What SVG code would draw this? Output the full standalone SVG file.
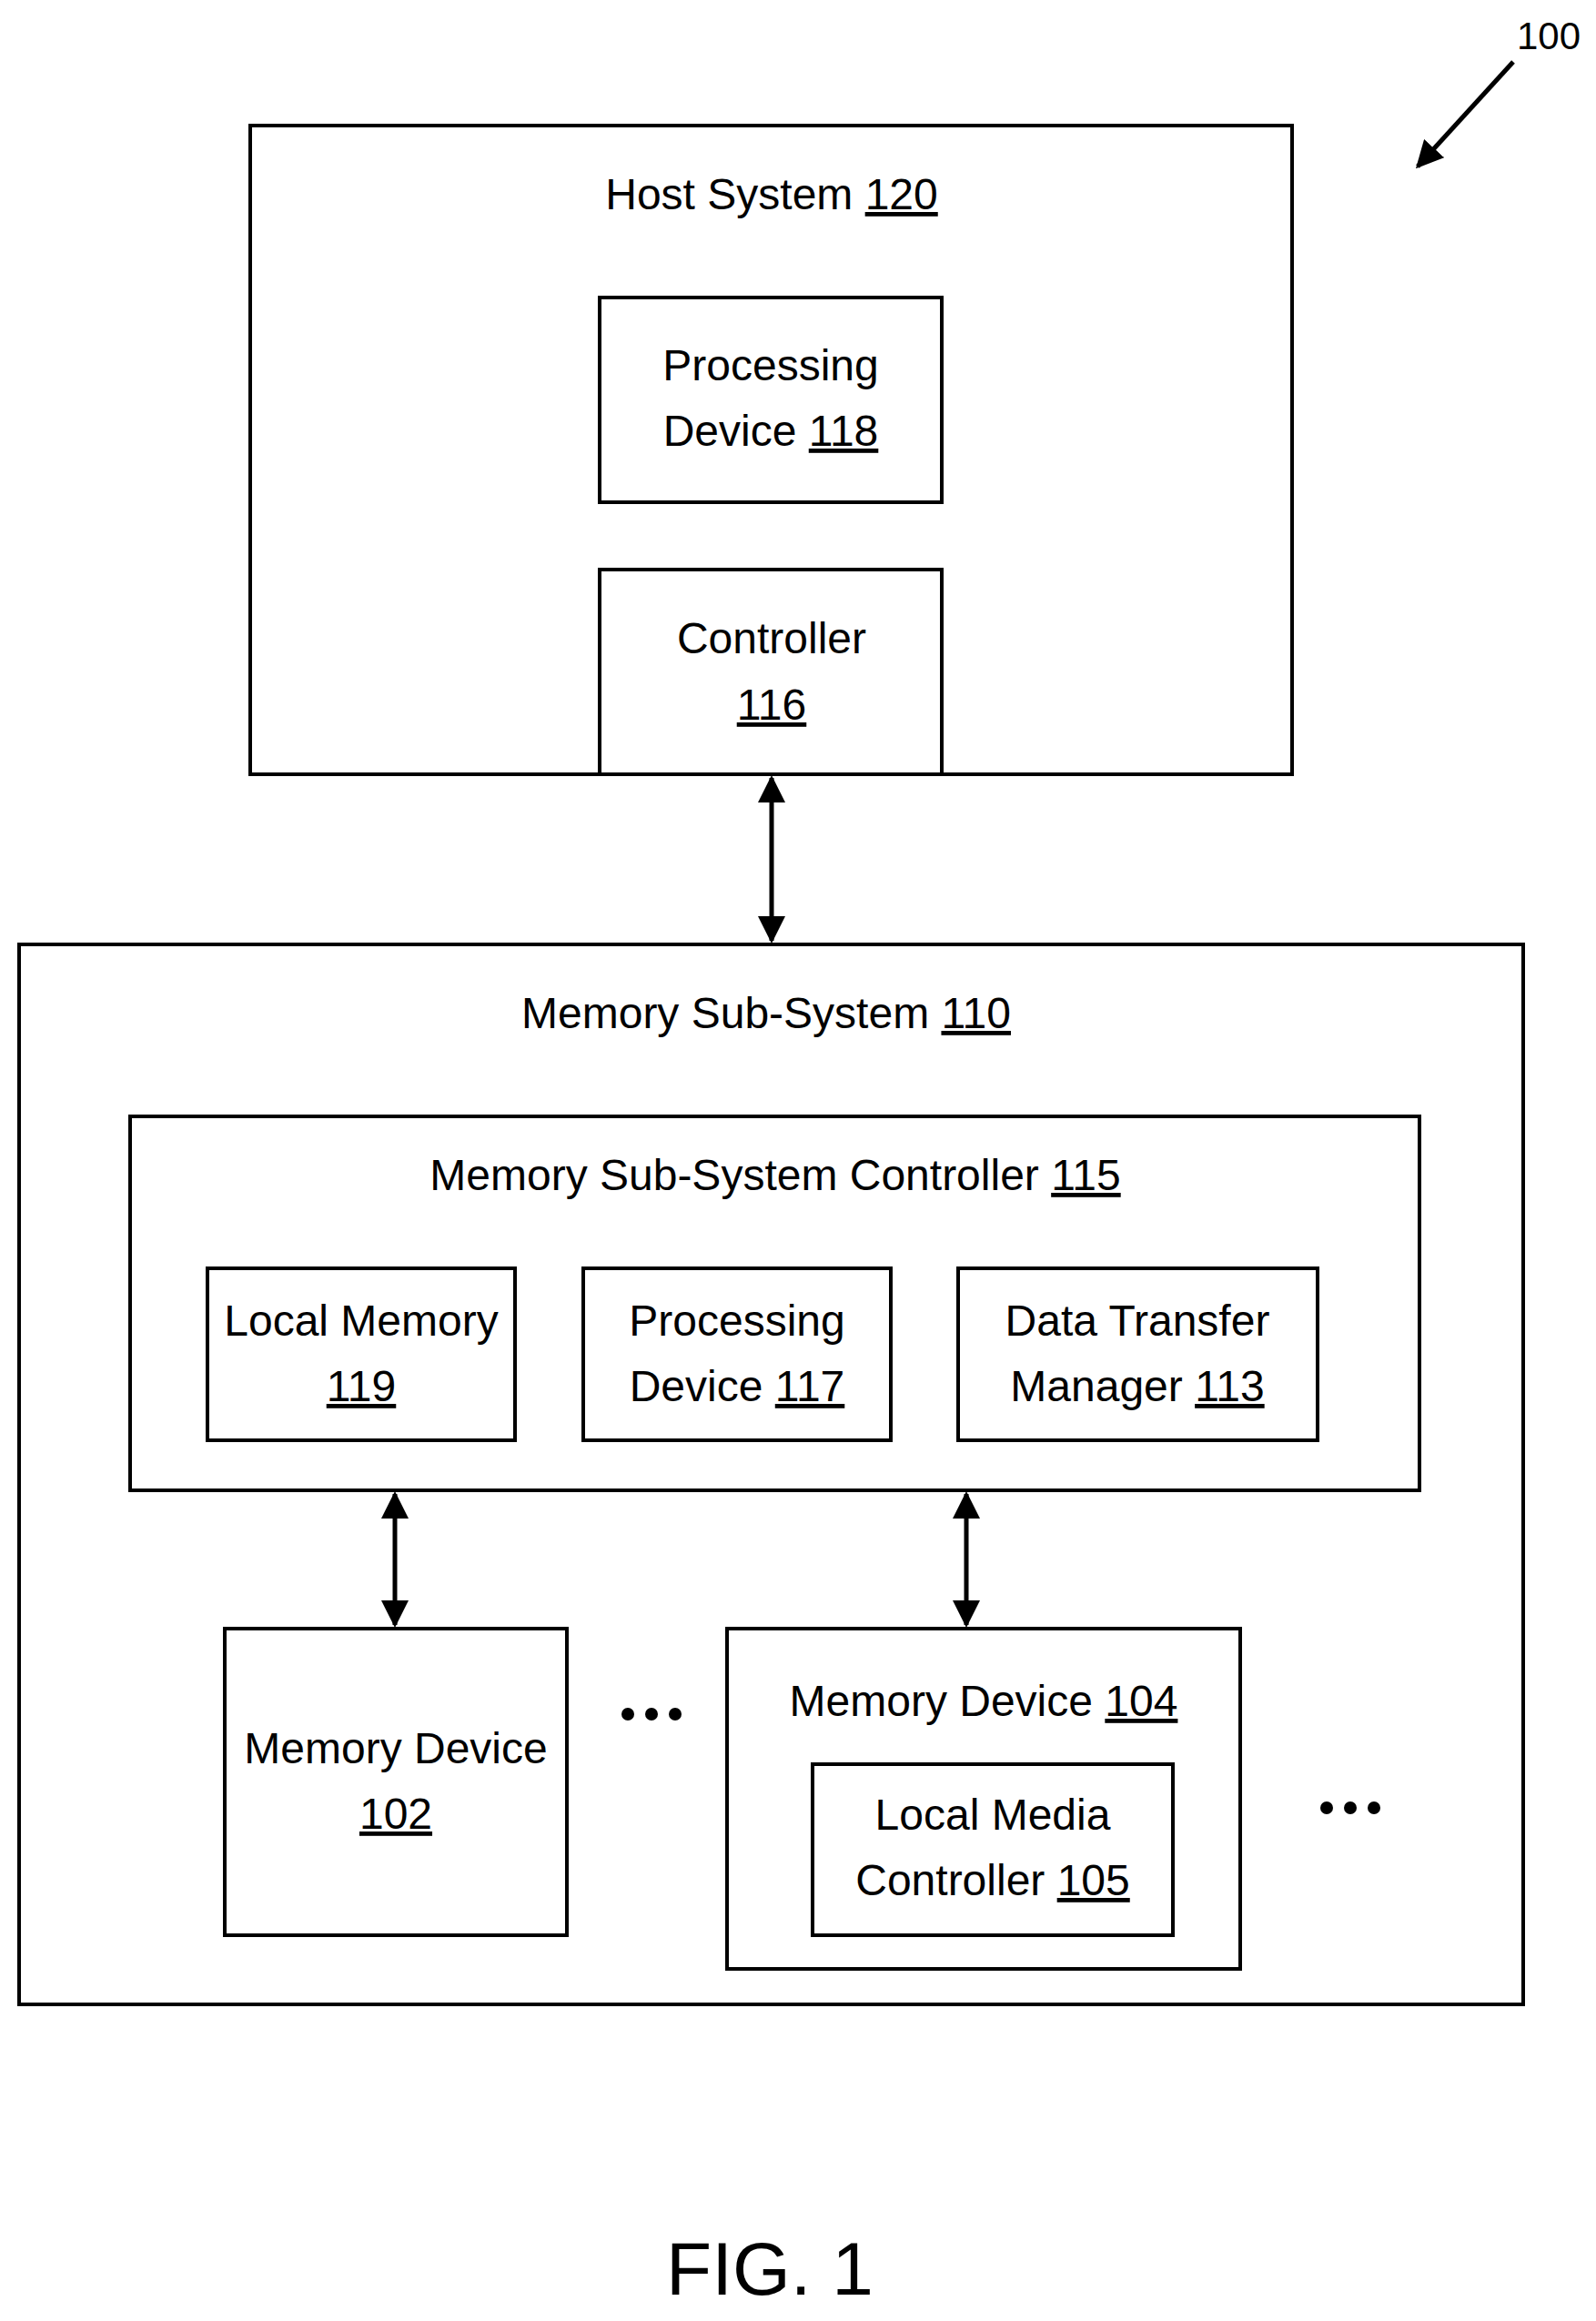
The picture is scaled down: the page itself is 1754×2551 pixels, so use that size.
<svg xmlns="http://www.w3.org/2000/svg" width="1754" height="2551" viewBox="0 0 1754 2551">
<style>
rect{fill:none;stroke:#000;stroke-width:4}
text{font-family:"Liberation Sans",Arial,sans-serif;font-size:48px;text-anchor:middle;fill:#000}
.n{text-decoration:underline}
line{stroke:#000;stroke-width:5}
</style>
<defs>
<marker id="a" viewBox="0 0 10 10" refX="9" refY="5" markerWidth="6" markerHeight="6" orient="auto-start-reverse"><path d="M0,0L10,5L0,10z" fill="#000"/></marker>
</defs>
<rect x="0" y="0" width="1754" height="2551" style="fill:#fff;stroke:none"/>
<g id="host"><rect x="275" y="138" width="1145" height="713"/><text x="848" y="230">Host System <tspan class="n">120</tspan></text></g>
<g id="pd118"><rect x="659" y="327" width="376" height="225"/><text x="847" y="418">Processing</text><text x="847" y="490">Device <tspan class="n">118</tspan></text></g>
<g id="ctrl116"><rect x="659" y="626" width="376" height="225"/><text x="848" y="718">Controller</text><text x="848" y="791" class="n">116</text></g>
<g id="mss"><rect x="21" y="1038" width="1653" height="1165"/><text x="842" y="1130">Memory Sub-System <tspan class="n">110</tspan></text></g>
<g id="mssc"><rect x="143" y="1227" width="1417" height="411"/><text x="852" y="1308">Memory Sub-System Controller <tspan class="n">115</tspan></text></g>
<g id="lm119"><rect x="228" y="1394" width="338" height="189"/><text x="397" y="1468">Local Memory</text><text x="397" y="1540" class="n">119</text></g>
<g id="pd117"><rect x="641" y="1394" width="338" height="189"/><text x="810" y="1468">Processing</text><text x="810" y="1540">Device <tspan class="n">117</tspan></text></g>
<g id="dtm113"><rect x="1053" y="1394" width="395" height="189"/><text x="1250" y="1468">Data Transfer</text><text x="1250" y="1540">Manager <tspan class="n">113</tspan></text></g>
<g id="md102"><rect x="247" y="1790" width="376" height="337"/><text x="435" y="1938">Memory Device</text><text x="435" y="2010" class="n">102</text></g>
<g id="md104"><rect x="799" y="1790" width="564" height="374"/><text x="1081" y="1886">Memory Device <tspan class="n">104</tspan></text></g>
<g id="lmc105"><rect x="893" y="1939" width="396" height="188"/><text x="1091" y="2011">Local Media</text><text x="1091" y="2083">Controller <tspan class="n">105</tspan></text></g>
<g id="dots"><circle cx="690" cy="1884" r="7"/><circle cx="716" cy="1884" r="7"/><circle cx="742" cy="1884" r="7"/><circle cx="1458" cy="1987" r="7"/><circle cx="1484" cy="1987" r="7"/><circle cx="1510" cy="1987" r="7"/></g>
<g id="connectors">
<line x1="848" y1="855" x2="848" y2="1034" marker-start="url(#a)" marker-end="url(#a)"/>
<line x1="434" y1="1642" x2="434" y2="1786" marker-start="url(#a)" marker-end="url(#a)"/>
<line x1="1062" y1="1642" x2="1062" y2="1786" marker-start="url(#a)" marker-end="url(#a)"/>
<line x1="1663" y1="68" x2="1558" y2="183" marker-end="url(#a)"/>
</g>
<text x="1702" y="54" style="font-size:42px">100</text>
<text x="846" y="2522" style="font-size:82px">FIG. 1</text>
</svg>
